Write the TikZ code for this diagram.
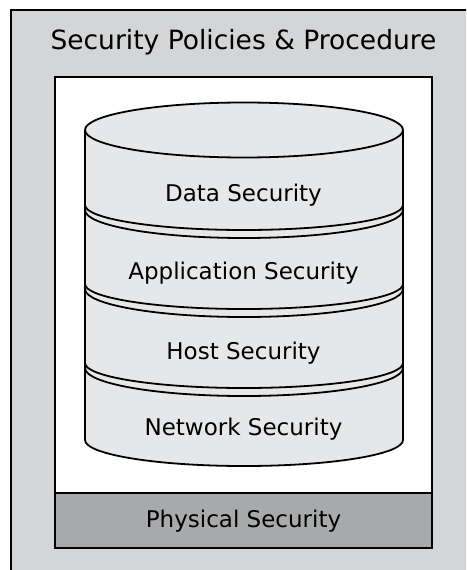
\documentclass[tikz,border=0pt]{standalone}
\usepackage{fontspec}
\setmainfont{DejaVu Sans}
\usetikzlibrary{positioning}
\definecolor{frame}{HTML}{D4D5D7}
\definecolor{disk}{HTML}{E6E7E9}
\definecolor{base}{HTML}{A8A9AB}

\begin{document}
\begin{tikzpicture}[
    x=1pt,y=-1pt,
    box/.style={draw=black,line width=2pt,inner sep=0pt,outer sep=0pt},
    label/.style={font=\fontsize{23}{27}\selectfont,inner sep=0pt,anchor=base},
    rim/.style={draw=black,line width=1.8pt}
]
\useasboundingbox (0,0) rectangle (466,570);
\clip (0,0) rectangle (466,570);

% outer grey frame runs off the page on the right and at the bottom
\draw[box,fill=frame] (11,10) rectangle (490,600);
\node[font=\fontsize{26.5}{31}\selectfont,inner sep=0pt,anchor=base] (title) at (243.5,49.3) {Security Policies \& Procedure};

% white panel with the physical layer along its foot
\node[box,fill=white,anchor=north west,minimum width=377pt,minimum height=471pt] (panel) at (55,77) {};
\node[box,fill=base,anchor=south west,minimum width=377pt,minimum height=55pt] (bar) at (55,548) {};
\node[label] (phys) at (243.5,527.3) {Physical Security};

% stacked disks
\fill[disk] (85,130) -- (85,440) arc[start angle=180,end angle=0,x radius=159,y radius=26] -- (403,130) -- cycle;
\draw[rim] (85,130) -- (85,440) arc[start angle=180,end angle=0,x radius=159,y radius=26] -- (403,130);
\draw[rim,fill=disk] (244,130) ellipse[x radius=159,y radius=27.5];
\foreach \y in {205,284,363}{
  \draw[rim] (85,\y) arc[start angle=180,end angle=0,x radius=159,y radius=25];
  \draw[rim] (85,\y+5) arc[start angle=180,end angle=0,x radius=159,y radius=28];
}

\node[label] (data) at (243.5,201.7) {Data Security};
\node[label] (app) at (243.5,279.3) {Application Security};
\node[label] (host) at (243.5,359.3) {Host Security};
\node[label] (net) at (243.5,435) {Network Security};
\end{tikzpicture}
\end{document}
